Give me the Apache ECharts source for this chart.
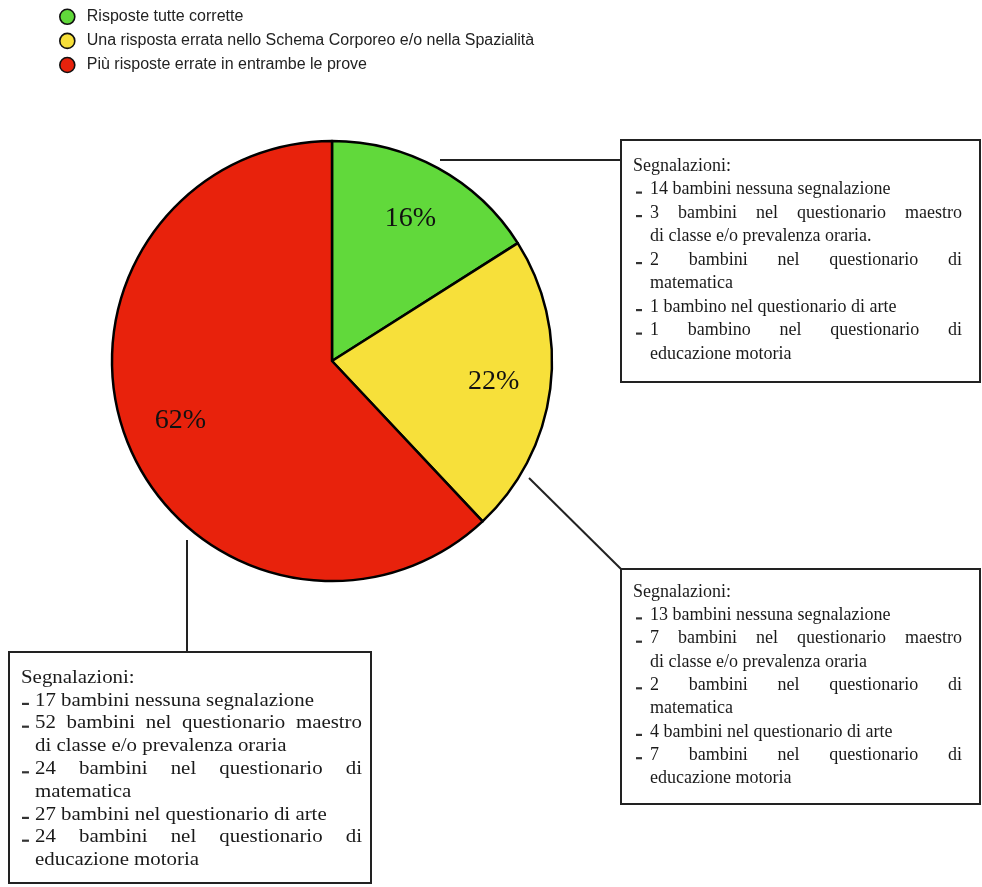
<!DOCTYPE html>
<html>
<head>
<meta charset="utf-8">
<script src="https://cdn.jsdelivr.net/npm/echarts@6/dist/echarts.min.js"></script>
<style>
html,body{margin:0;padding:0;background:#fff;}
#chart{width:982px;height:887px;}
</style>
</head>
<body>
<div id="chart"></div>
<script>
// ---- DATA ----
const categories = [
  'Risposte tutte corrette',
  'Una risposta errata nello Schema Corporeo e/o nella Spazialità',
  'Più risposte errate in entrambe le prove'
];
const values = [16, 22, 62];
const colors = ['#61d93b', '#f7e03a', '#e8220c'];

const noteTitle = 'Segnalazioni:';
const notesGreen = [
  ['14 bambini nessuna segnalazione'],
  ['3 bambini nel questionario maestro', 'di classe e/o prevalenza oraria.'],
  ['2 bambini nel questionario di', 'matematica'],
  ['1 bambino nel questionario di arte'],
  ['1 bambino nel questionario di', 'educazione motoria']
];
const notesYellow = [
  ['13 bambini nessuna segnalazione'],
  ['7 bambini nel questionario maestro', 'di classe e/o prevalenza oraria'],
  ['2 bambini nel questionario di', 'matematica'],
  ['4 bambini nel questionario di arte'],
  ['7 bambini nel questionario di', 'educazione motoria']
];
const notesRed = [
  ['17 bambini nessuna segnalazione'],
  ['52 bambini nel questionario maestro', 'di classe e/o prevalenza oraria'],
  ['24 bambini nel questionario di', 'matematica'],
  ['27 bambini nel questionario di arte'],
  ['24 bambini nel questionario di', 'educazione motoria']
];

// ---- LAYOUT / STYLE ----
const SERIF = 'Liberation Serif';
const NOTE_SIZE = 18;
const TXT = '#1a1a1a';
const LINE = '#222';

const measureCtx = document.createElement('canvas').getContext('2d');
measureCtx.font = NOTE_SIZE + 'px "' + SERIF + '"';
function w(s) { return measureCtx.measureText(s).width; }

function textEl(str, x, y, sx) {
  return {
    type: 'text', x: x, y: y, scaleX: sx || 1, z: 10,
    style: { text: str, fontSize: NOTE_SIZE, fontFamily: SERIF, fill: TXT,
             align: 'left', verticalAlign: 'middle' }
  };
}

function buildBox(notes, b) {
  const els = [];
  els.push({ type: 'rect', z: 5,
    shape: { x: b.rx, y: b.ry, width: b.rw, height: b.rh },
    style: { fill: '#fff', stroke: LINE, lineWidth: 2 } });
  const s = b.scale || 1;
  els.push(textEl(noteTitle, b.titleX, b.yTitle, s));
  let k = 1;
  notes.forEach(par => {
    par.forEach((line, li) => {
      const y = b.yTitle + b.lineH * k;
      if (li === 0) {
        els.push({ type: 'rect', z: 10,
          shape: { x: b.dashX, y: y + 2, width: 6 * s, height: 2.2 },
          style: { fill: '#333' } });
      }
      const justify = li < par.length - 1;
      if (justify) {
        const words = line.split(' ');
        const avail = (b.rightX - b.textX) / s;
        const sum = words.reduce((a, ww) => a + w(ww), 0);
        const gap = (avail - sum) / (words.length - 1);
        let cx = 0;
        words.forEach(ww => {
          els.push(textEl(ww, b.textX + cx * s, y, s));
          cx += w(ww) + gap;
        });
      } else {
        els.push(textEl(line, b.textX, y, s));
      }
      k++;
    });
  });
  return els;
}

const graphics = [];
// connectors
graphics.push({ type: 'line', z: 4, shape: { x1: 440, y1: 160, x2: 622, y2: 160 }, style: { stroke: LINE, lineWidth: 2 } });
graphics.push({ type: 'line', z: 4, shape: { x1: 529, y1: 478, x2: 621, y2: 569 }, style: { stroke: LINE, lineWidth: 2 } });
graphics.push({ type: 'line', z: 4, shape: { x1: 187, y1: 540, x2: 187, y2: 652 }, style: { stroke: LINE, lineWidth: 2 } });

buildBox(notesGreen, { rx: 621, ry: 140, rw: 359, rh: 242, titleX: 633, dashX: 636, textX: 650, rightX: 962, yTitle: 166, lineH: 23.5 })
  .forEach(e => graphics.push(e));
buildBox(notesYellow, { rx: 621, ry: 569, rw: 359, rh: 235, titleX: 633, dashX: 636, textX: 650, rightX: 962, yTitle: 592, lineH: 23.3 })
  .forEach(e => graphics.push(e));
buildBox(notesRed, { rx: 9, ry: 652, rw: 362, rh: 231, titleX: 21, dashX: 22, textX: 35, rightX: 362, yTitle: 678, lineH: 22.8, scale: 1.16 })
  .forEach(e => graphics.push(e));

const pieData = categories.map((c, i) => ({ name: c, value: values[i], itemStyle: { color: colors[i] } }));

const chart = echarts.init(document.getElementById('chart'), null, { renderer: 'canvas' });
chart.setOption({
  animation: false,
  backgroundColor: '#fff',
  legend: {
    orient: 'vertical',
    left: 54, top: 3.5,
    itemWidth: 15, itemHeight: 15, itemGap: 7.5,
    icon: 'circle',
    selectedMode: false,
    data: categories.map((c, i) => ({ name: c, itemStyle: { color: colors[i], borderColor: '#111', borderWidth: 1.6 } })),
    textStyle: { fontFamily: 'Liberation Sans', fontSize: 16, color: '#222', padding: [0, 0, 0, 7] }
  },
  series: [
    {
      type: 'pie',
      center: [332, 361],
      radius: [0, 220],
      startAngle: 90,
      clockwise: true,
      label: { show: false },
      labelLine: { show: false },
      silent: true,
      itemStyle: { borderColor: '#000', borderWidth: 2.5 },
      data: pieData
    },
    {
      type: 'pie',
      center: [332, 361],
      radius: [0, 320],
      startAngle: 90,
      clockwise: true,
      silent: true,
      z: 3,
      itemStyle: { color: 'rgba(0,0,0,0)', borderWidth: 0 },
      label: {
        show: true, position: 'inside', formatter: '{c}%',
        fontFamily: SERIF, fontSize: 28, color: '#111', textBorderWidth: 0
      },
      labelLine: { show: false },
      data: categories.map((c, i) => ({ name: c, value: values[i] }))
    }
  ],
  graphic: { elements: graphics }
});
</script>
</body>
</html>
